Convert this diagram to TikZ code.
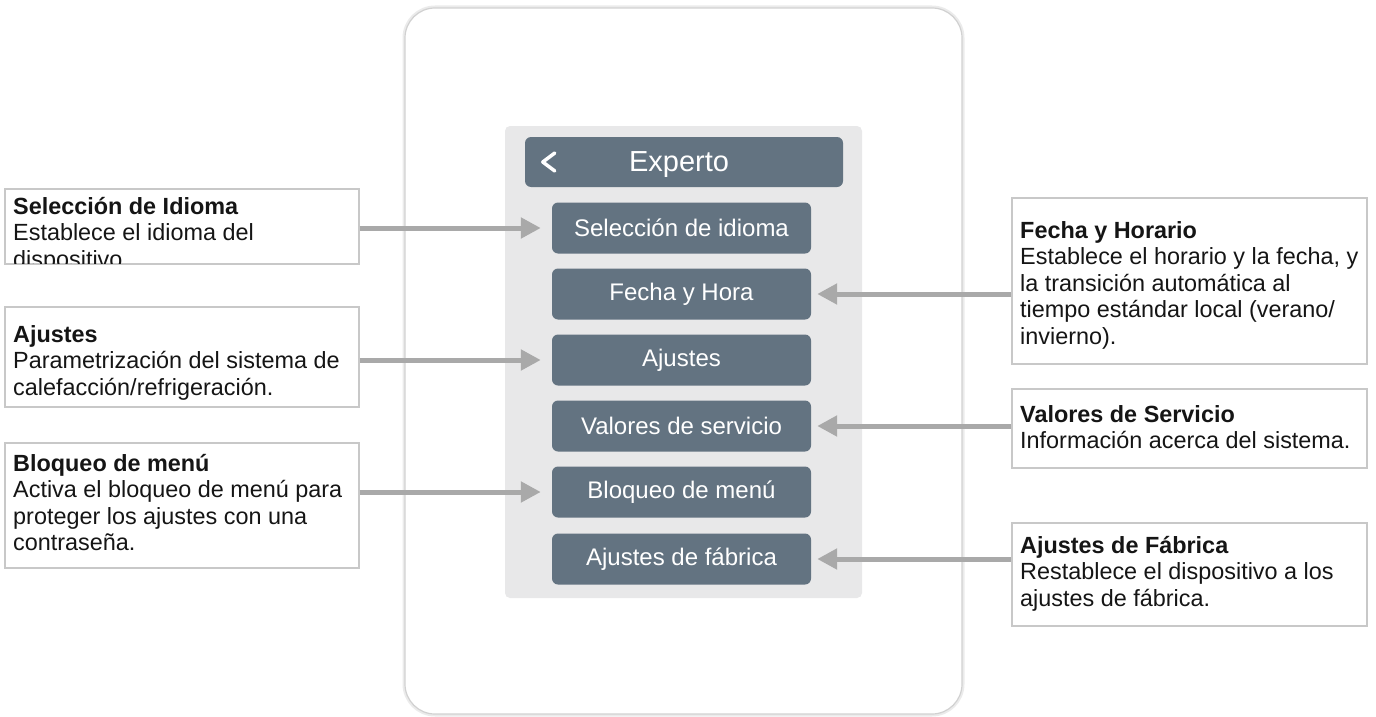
\documentclass[tikz,border=0pt]{standalone}
\usepackage{fontspec}
\setmainfont{Liberation Sans}
\usepackage{tikz}
\usetikzlibrary{calc,arrows.meta}
\definecolor{slate}{HTML}{637381}
\definecolor{panelgray}{HTML}{E8E8E9}
\definecolor{arrowgray}{HTML}{A9A9A9}
\definecolor{boxline}{HTML}{C8C8C8}
\definecolor{inkdark}{HTML}{151515}
\tikzstyle{callout} = [draw=boxline, line width=1.5pt, fill=white, rectangle, inner sep=0pt, anchor=north west]
\tikzstyle{calltext} = [anchor=north west, align=left, inner sep=0pt, text=inkdark, font=\fontsize{23.4}{26.5}\selectfont]
\tikzstyle{menubtn} = [rectangle, fill=slate, rounded corners=6pt, minimum width=259pt, minimum height=51pt, inner sep=0pt, text=white, font=\fontsize{24}{28}\selectfont]
\tikzstyle{header} = [rectangle, fill=slate, rounded corners=6pt, minimum width=318pt, minimum height=50pt, inner sep=0pt]
\tikzstyle{pointer} = [draw=arrowgray, line width=5pt, -{Triangle[length=20pt,width=20pt]}]

\begin{document}
\begin{tikzpicture}[x=1pt, y=-1pt]
    \useasboundingbox (0,0) rectangle (1376,717);
    % device frame and menu panel
    \draw[black!8, line width=5pt, rounded corners=30pt] (405,8) rectangle (962,714);
    \draw[black!18, line width=1.2pt, fill=white, rounded corners=30pt] (405,8) rectangle (962,714);
    \fill[panelgray, rounded corners=5pt] (505,126) rectangle (862,598);
    \node (hdr) [header] at (684,162) {};
    \node (hdrtxt) [text=white, font=\fontsize{29}{34}\selectfont] at (679,165) {Experto};
    \draw[white, line width=3.5pt, line cap=round, line join=round] ($(hdr.west)+(30,-9)$) -- ($(hdr.west)+(18,0)$) -- ($(hdr.west)+(30,9)$);
    % menu buttons
    \node (selbtn) [menubtn] at (681.5,228) {Selección de idioma};
    \node (fechbtn) [menubtn] at (681.5,294) {Fecha y Hora};
    \node (ajbtn) [menubtn] at (681.5,360) {Ajustes};
    \node (valbtn) [menubtn] at (681.5,426) {Valores de servicio};
    \node (blqbtn) [menubtn] at (681.5,492) {Bloqueo de menú};
    \node (fabbtn) [menubtn] at (681.5,559) {Ajustes de fábrica};
    % left callouts
    \node (selbox) [callout, minimum width=354pt, minimum height=75pt] at (4,188) {};
    \begin{scope}
        \clip ($(selbox.north west)+(1,1)$) rectangle ($(selbox.south east)+(-1,-1)$);
        \node (seltxt) [calltext] at ($(selbox.north west)+(9,9)$) {\textbf{Selección de Idioma}\\Establece el idioma del\\dispositivo.};
    \end{scope}
    \node (ajbox) [callout, minimum width=354pt, minimum height=100pt] at (4,306) {};
    \node (ajtxt) [calltext] at ($(ajbox.north west)+(9,19)$) {\textbf{Ajustes}\\Parametrización del sistema de\\calefacción/refrigeración.};
    \node (blqbox) [callout, minimum width=354pt, minimum height=125pt] at (4,442) {};
    \node (blqtxt) [calltext] at ($(blqbox.north west)+(9,12)$) {\textbf{Bloqueo de menú}\\Activa el bloqueo de menú para\\proteger los ajustes con una\\contraseña.};
    % right callouts
    \node (fechbox) [callout, minimum width=355pt, minimum height=166pt] at (1011,197) {};
    \node (fechtxt) [calltext] at ($(fechbox.north west)+(9,24)$) {\textbf{Fecha y Horario}\\Establece el horario y la fecha, y\\la transición automática al\\tiempo estándar local (verano/\\invierno).};
    \node (valbox) [callout, minimum width=355pt, minimum height=79pt] at (1011,388) {};
    \node (valtxt) [calltext] at ($(valbox.north west)+(9,17)$) {\textbf{Valores de Servicio}\\Información acerca del sistema.};
    \node (fabbox) [callout, minimum width=355pt, minimum height=103pt] at (1011,522) {};
    \node (fabtxt) [calltext] at ($(fabbox.north west)+(9,14)$) {\textbf{Ajustes de Fábrica}\\Restablece el dispositivo a los\\ajustes de fábrica.};
    % pointers
    \draw[pointer, shorten >=11pt] (selbox.east |- selbtn.west) -- (selbtn.west);
    \draw[pointer, shorten >=11pt] (ajbox.east |- ajbtn.west) -- (ajbtn.west);
    \draw[pointer, shorten >=11pt] (blqbox.east |- blqbtn.west) -- (blqbtn.west);
    \draw[pointer, shorten >=6pt] (fechbox.west |- fechbtn.east) -- (fechbtn.east);
    \draw[pointer, shorten >=6pt] (valbox.west |- valbtn.east) -- (valbtn.east);
    \draw[pointer, shorten >=6pt] (fabbox.west |- fabbtn.east) -- (fabbtn.east);
\end{tikzpicture}
\end{document}
